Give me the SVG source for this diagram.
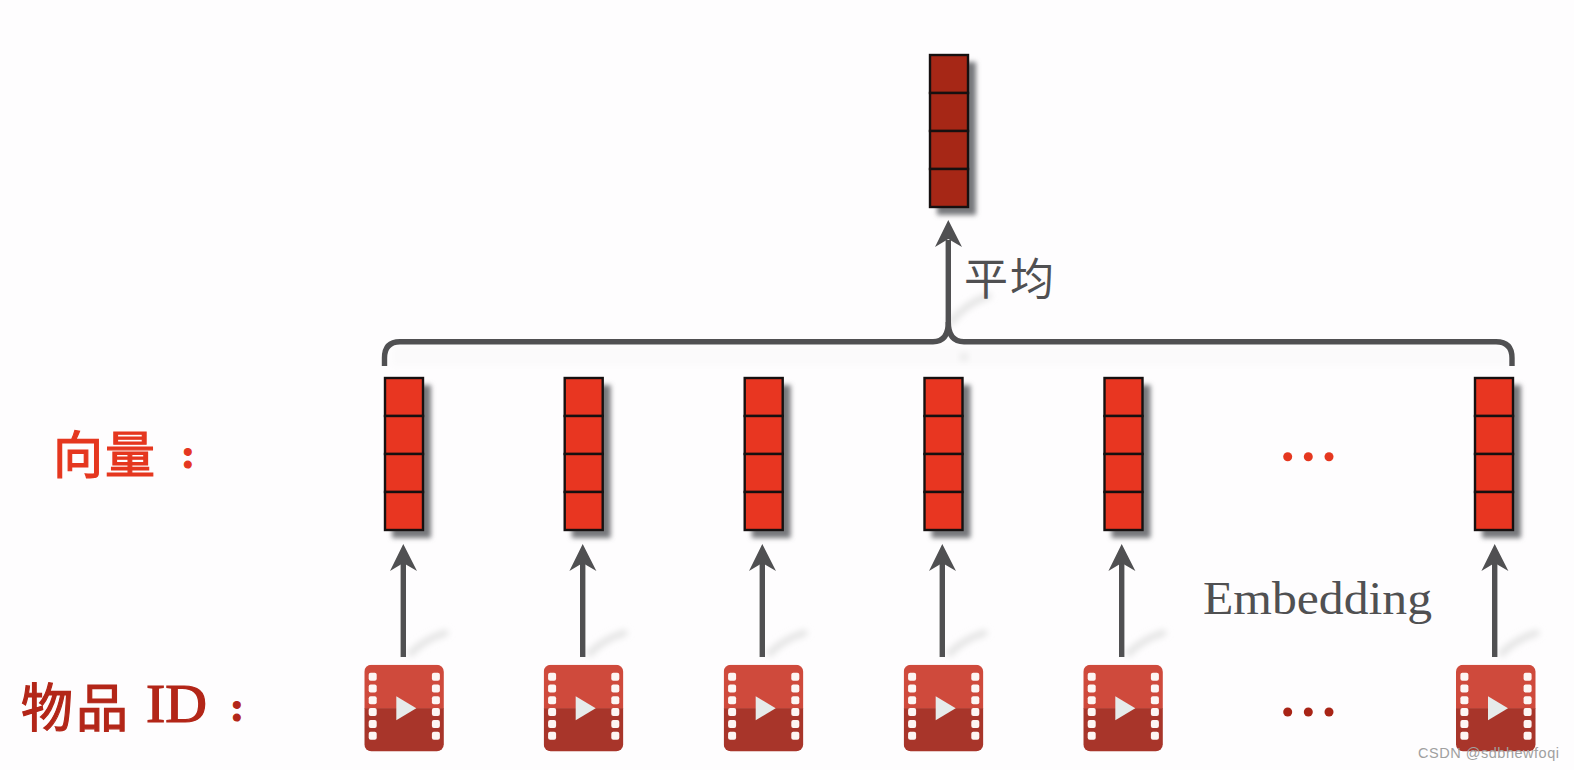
<svg xmlns="http://www.w3.org/2000/svg" xmlns:xlink="http://www.w3.org/1999/xlink" width="1574" height="770" viewBox="0 0 1574 770">
<style>
.cell{stroke:#161010;stroke-width:2.4}
.v1{fill:#e83621}
.v2{fill:#a62716}
.shadow{fill:#77787c;filter:url(#b3)}
.conn{fill:none;stroke:#505052;stroke-width:5.4}
.head{fill:#505052}
.streak{fill:none;stroke:#e4e4e4;stroke-width:7;stroke-linecap:round;filter:url(#b2)}
.hole{fill:#fdf6f4}
.cjk{font-family:"Noto Sans CJK SC","Noto Sans CJK TC",sans-serif}
.rom{font-family:"Liberation Serif",serif}
.red1{fill:#e5371f;stroke:#e5371f;stroke-width:1.2}
.red2{fill:#b32618;stroke:#b32618;stroke-width:1.2}
.grey{fill:#505052}
</style>
<defs>
<filter id="b3" x="-40%" y="-20%" width="180%" height="140%"><feGaussianBlur stdDeviation="2.8"/></filter>
<filter id="b2" x="-40%" y="-60%" width="180%" height="220%"><feGaussianBlur stdDeviation="3"/></filter>
<symbol id="vec" overflow="visible">
<rect class="shadow" x="8" y="8" width="39" height="153"/>
<rect class="cell" x="1" y="1" width="38" height="38"/>
<rect class="cell" x="1" y="39" width="38" height="38"/>
<rect class="cell" x="1" y="77" width="38" height="38"/>
<rect class="cell" x="1" y="115" width="38" height="38"/>
</symbol>
<clipPath id="iconclip"><rect width="79.5" height="86.5" rx="7"/></clipPath>
<symbol id="film" overflow="visible">
<g clip-path="url(#iconclip)">
<rect width="80" height="44" fill="#cf4a3c"/>
<rect y="43.5" width="80" height="44" fill="#a8352a"/>
</g>
<g class="hole">
<rect x="4.4" y="8" width="8" height="8" rx="2"/><rect x="4.4" y="19.8" width="8" height="8" rx="2"/><rect x="4.4" y="31.6" width="8" height="8" rx="2"/><rect x="4.4" y="43.4" width="8" height="8" rx="2"/><rect x="4.4" y="55.2" width="8" height="8" rx="2"/><rect x="4.4" y="67" width="8" height="8" rx="2"/>
<rect x="67.6" y="8" width="8" height="8" rx="2"/><rect x="67.6" y="19.8" width="8" height="8" rx="2"/><rect x="67.6" y="31.6" width="8" height="8" rx="2"/><rect x="67.6" y="43.4" width="8" height="8" rx="2"/><rect x="67.6" y="55.2" width="8" height="8" rx="2"/><rect x="67.6" y="67" width="8" height="8" rx="2"/>
</g>
<path d="M32 31.5L52 43.5L32 55.5Z" fill="#e6ebea"/>
</symbol>
</defs>
<rect width="1574" height="770" fill="#fefdfe"/>
<rect x="392" y="346" width="1116" height="20" fill="#fbfafb" filter="url(#b2)"/>
<ellipse cx="964" cy="357" rx="4" ry="4" fill="#e8e8e8" filter="url(#b2)"/>

<g id="connectors">
<path class="streak" d="M951 322Q965 304 988 296"/>
<path class="streak" d="M411 653Q425 639 445 633"/>
<path class="streak" d="M590 653Q604 639 624 633"/>
<path class="streak" d="M770 653Q784 639 804 633"/>
<path class="streak" d="M950 653Q964 639 984 633"/>
<path class="streak" d="M1129 653Q1143 639 1163 633"/>
<path class="streak" d="M1502 653Q1516 639 1536 633"/>
<path class="conn" d="M384.5 366V358Q384.5 341.7 400 341.7H933Q948.3 341.7 948.3 322V240"/>
<path class="conn" d="M1512 366V358Q1512 341.7 1496 341.7H964Q948.3 341.7 948.3 322"/>
<path class="head" d="M948.3 220L962 247L948.3 239L935 247Z"/>
<g class="conn">
<path d="M403.3 657V562"/><path d="M582.7 657V562"/><path d="M762.3 657V562"/><path d="M942.3 657V562"/><path d="M1121.7 657V562"/><path d="M1494.7 657V562"/>
</g>
<path class="head" d="M403.3 544L417 571L403.3 563L390 571Z"/>
<path class="head" d="M582.7 544L596.4 571L582.7 563L569.4 571Z"/>
<path class="head" d="M762.3 544L776 571L762.3 563L749 571Z"/>
<path class="head" d="M942.3 544L956 571L942.3 563L929 571Z"/>
<path class="head" d="M1121.7 544L1135.4 571L1121.7 563L1108.4 571Z"/>
<path class="head" d="M1494.7 544L1508.4 571L1494.7 563L1481.4 571Z"/>
</g>

<g id="vector-mean" class="v2"><use xlink:href="#vec" href="#vec" x="929" y="54"/></g>
<g id="vector-1" class="v1"><use xlink:href="#vec" href="#vec" x="384" y="377"/></g>
<g id="vector-2" class="v1"><use xlink:href="#vec" href="#vec" x="563.7" y="377"/></g>
<g id="vector-3" class="v1"><use xlink:href="#vec" href="#vec" x="743.7" y="377"/></g>
<g id="vector-4" class="v1"><use xlink:href="#vec" href="#vec" x="923.5" y="377"/></g>
<g id="vector-5" class="v1"><use xlink:href="#vec" href="#vec" x="1103.5" y="377"/></g>
<g id="vector-6" class="v1"><use xlink:href="#vec" href="#vec" x="1474" y="377"/></g>

<g id="item-1"><use xlink:href="#film" href="#film" x="364.3" y="664.7"/></g>
<g id="item-2"><use xlink:href="#film" href="#film" x="543.7" y="664.7"/></g>
<g id="item-3"><use xlink:href="#film" href="#film" x="723.7" y="664.7"/></g>
<g id="item-4"><use xlink:href="#film" href="#film" x="903.7" y="664.7"/></g>
<g id="item-5"><use xlink:href="#film" href="#film" x="1083.3" y="664.7"/></g>
<g id="item-6"><use xlink:href="#film" href="#film" x="1456" y="664.7"/></g>

<g id="dots-vector" fill="#e5371f"><circle cx="1287.7" cy="456.7" r="4.5"/><circle cx="1308.3" cy="456.7" r="4.5"/><circle cx="1329" cy="456.7" r="4.5"/></g>
<g id="dots-item" fill="#a82416"><circle cx="1287.7" cy="712" r="4.5"/><circle cx="1308.3" cy="712" r="4.5"/><circle cx="1329" cy="712" r="4.5"/></g>

<g id="labels">
<text class="cjk grey" x="964" y="295" font-size="44" letter-spacing="2">平均</text>
<text class="rom grey" x="1203" y="614" font-size="46" textLength="229" lengthAdjust="spacingAndGlyphs">Embedding</text>
<text class="cjk red1" x="53" y="473" font-size="50" letter-spacing="2">向量</text>
<text class="rom red1" x="181" y="468" font-size="42" font-weight="bold">:</text>
<text class="cjk red2" x="21" y="727" font-size="52" letter-spacing="3">物品</text>
<text class="rom red2" x="146" y="721.7" font-size="54" stroke-width="0" textLength="61" lengthAdjust="spacingAndGlyphs">ID</text>
<text class="rom red2" x="230" y="721" font-size="42" font-weight="bold">:</text>
<text x="1418" y="757.5" font-size="14.5" font-family="Liberation Sans,sans-serif" fill="#a0a0a0" textLength="141">CSDN @sdbhewfoqi</text>
</g>
</svg>
